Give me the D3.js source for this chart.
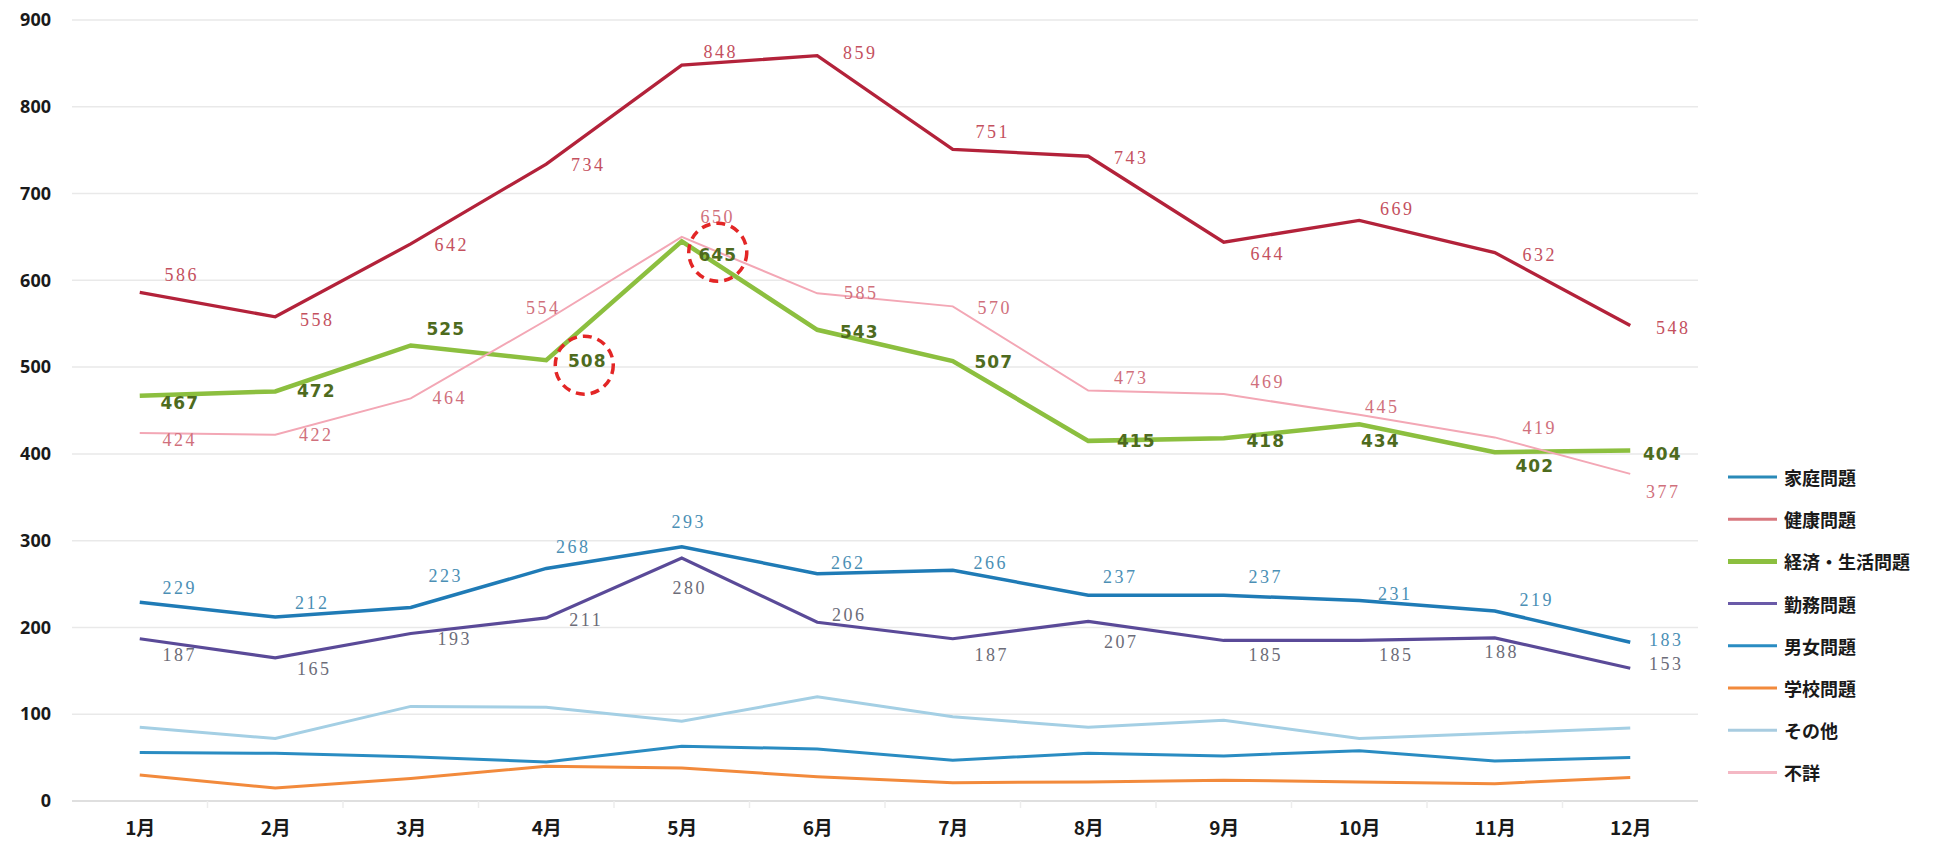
<!DOCTYPE html>
<html><head><meta charset="utf-8">
<script src="https://cdn.jsdelivr.net/npm/d3@7"></script>
<style>html,body{margin:0;padding:0;background:#fff;}svg{display:block;}</style>
</head><body>
<svg id="chart" width="1947" height="846"></svg>
<script>
// ---- data ----
const months = ["1月","2月","3月","4月","5月","6月","7月","8月","9月","10月","11月","12月"];
const yTicks = [0,100,200,300,400,500,600,700,800,900];
const seriesNames = ["家庭問題","健康問題","経済・生活問題","勤務問題","男女問題","学校問題","その他","不詳"];
const katei   = [229,212,223,268,293,262,266,237,237,231,219,183];
const kenko   = [586,558,642,734,848,859,751,743,644,669,632,548];
const keizai  = [467,472,525,508,645,543,507,415,418,434,402,404];
const kinmu   = [187,165,193,211,280,206,187,207,185,185,188,153];
const danjo   = [56,55,51,45,63,60,47,55,52,58,46,50];
const gakko   = [30,15,26,40,38,28,21,22,24,22,20,27];
const sonota  = [85,72,109,108,92,120,97,85,93,72,78,84];
const fusho   = [424,422,464,554,650,585,570,473,469,445,419,377];
const circledPoints = [["経済・生活問題",3],["経済・生活問題",4]];

// ---- styles / layout (kept separate from data) ----
const styles = {
  "家庭問題":      {color:"#1f7bb6", width:3.5, legend:"#2a8ab8", labelColor:"#4b8fb5", labelFont:"serif"},
  "健康問題":      {color:"#b3223a", width:3.3, legend:"#d8787f", labelColor:"#c4505e", labelFont:"serif"},
  "経済・生活問題":{color:"#8cbf3f", width:4.5, legend:"#8cbf3f", labelColor:"#4e6b1e", labelFont:"bold"},
  "勤務問題":      {color:"#5a4a98", width:3.2, legend:"#6a5aa8", labelColor:"#6c6c78", labelFont:"serif"},
  "男女問題":      {color:"#2a8cc2", width:3,   legend:"#2a8cc2"},
  "学校問題":      {color:"#f28a3c", width:3,   legend:"#f28a3c"},
  "その他":        {color:"#a4cfe4", width:3,   legend:"#a8cce0"},
  "不詳":          {color:"#f3a7b5", width:2,   legend:"#f4b8c4", labelColor:"#d0707c", labelFont:"serif"}
};
const labelOffsets = {
  "健康問題":[[42,-17],[42,3],[41,1],[42,1],[39,-13],[43,-3],[40,-17],[43,2],[44,12],[38,-11],[45,2],[43,3]],
  "不詳":[[40,7],[41,0],[39,0],[-3,-12],[36,-20],[44,0],[42,2],[43,-13],[44,-12],[23,-8],[45,-9],[33,18]],
  "経済・生活問題":[[40,7],[41,0],[35,-16],[41,1],[36,14],[42,2],[41,1],[48,0],[42,3],[21,17],[40,14],[32,4]],
  "家庭問題":[[40,-14],[37,-14],[35,-31],[27,-21],[7,-25],[31,-11],[38,-7],[32,-18],[42,-18],[36,-7],[42,-11],[36,-2]],
  "勤務問題":[[40,16],[39,11],[44,5],[40,2],[8,30],[32,-7],[39,16],[33,21],[42,15],[37,15],[7,14],[36,-4]]
};
const circleOffsets = [[38,5],[36,11]];

const seriesValues = {
  "家庭問題":katei,"健康問題":kenko,"経済・生活問題":keizai,"勤務問題":kinmu,
  "男女問題":danjo,"学校問題":gakko,"その他":sonota,"不詳":fusho
};

const svg = d3.select("#chart");
const plot = {left:72, right:1698, top:20, bottom:801};

const x = d3.scalePoint().domain(months).range([plot.left, plot.right]).padding(0.5);
const xBand = d3.scaleBand().domain(months).range([plot.left, plot.right]);
const y = d3.scaleLinear().domain([0,900]).range([plot.bottom, plot.top]);

// gridlines
svg.append("g").selectAll("line").data(yTicks).join("line")
  .attr("x1", plot.left).attr("x2", plot.right)
  .attr("y1", d=>y(d)).attr("y2", d=>y(d))
  .attr("stroke", d=> d===0 ? "#d4d4d4" : "#e9e9e9").attr("stroke-width", 1.5);

// x-axis category boundary ticks (faint)
svg.append("g").selectAll("line").data(months.slice(1)).join("line")
  .attr("x1", d=>xBand(d)).attr("x2", d=>xBand(d))
  .attr("y1", plot.bottom).attr("y2", plot.bottom+7)
  .attr("stroke","#ededed").attr("stroke-width",1.5);

// y-axis labels
const yAxis = d3.axisLeft(y).tickValues(yTicks).tickSize(0).tickPadding(21);
const gy = svg.append("g").attr("transform",`translate(${plot.left},0)`).call(yAxis);
gy.select(".domain").remove();
gy.selectAll("text").attr("font-family","'Noto Sans','DejaVu Sans',sans-serif")
  .attr("font-size",18).attr("font-weight",700).attr("fill","#1a1a1a");

// x-axis labels
const xAxis = d3.axisBottom(x).tickSize(0).tickPadding(21);
const gx = svg.append("g").attr("transform",`translate(0,${plot.bottom})`).call(xAxis);
gx.select(".domain").remove();
gx.selectAll("text").attr("font-family","'Noto Sans CJK JP',sans-serif")
  .attr("font-size",19).attr("font-weight",700).attr("fill","#1a1a1a");

// lines
const line = d3.line().x((d,i)=>x(months[i])).y(d=>y(d));
seriesNames.forEach(name=>{
  const s = styles[name];
  svg.append("path").datum(seriesValues[name])
    .attr("d", line).attr("fill","none")
    .attr("stroke", s.color).attr("stroke-width", s.width)
    .attr("stroke-linejoin","miter").attr("stroke-linecap","butt");
});

// data labels
Object.keys(labelOffsets).forEach(name=>{
  const s = styles[name];
  const vals = seriesValues[name];
  const offs = labelOffsets[name];
  const isBold = s.labelFont === "bold";
  svg.append("g").selectAll("text").data(vals).join("text")
    .attr("x",(d,i)=>x(months[i]) + offs[i][0])
    .attr("y",(d,i)=>y(d) + offs[i][1])
    .attr("text-anchor","middle").attr("dominant-baseline","central")
    .attr("font-family", isBold ? "'DejaVu Sans',sans-serif" : "'Liberation Serif','DejaVu Serif',serif")
    .attr("font-weight", isBold ? 700 : 400)
    .attr("font-size", isBold ? 17 : 18)
    .attr("letter-spacing", isBold ? 1 : 2.5)
    .attr("fill", s.labelColor)
    .text(d=>d);
});

// dashed red circles
circledPoints.forEach((c,k)=>{
  const [name, i] = c;
  const v = seriesValues[name][i];
  svg.append("circle")
    .attr("cx", x(months[i]) + circleOffsets[k][0])
    .attr("cy", y(v) + circleOffsets[k][1])
    .attr("r", 29)
    .attr("fill","none").attr("stroke","#e32626").attr("stroke-width",3.5)
    .attr("stroke-dasharray","9,6");
});

// legend
const legendX = 1728, legendY = 477, legendStep = 42.2;
const lg = svg.append("g");
seriesNames.forEach((name,i)=>{
  const s = styles[name];
  const yy = legendY + i*legendStep;
  lg.append("line").attr("x1",legendX).attr("x2",legendX+49).attr("y1",yy).attr("y2",yy)
    .attr("stroke", s.legend).attr("stroke-width", name==="経済・生活問題" ? 5 : 3);
  lg.append("text").attr("x", legendX+56).attr("y", yy).attr("dominant-baseline","central")
    .attr("font-family","'Noto Sans CJK JP',sans-serif").attr("font-weight",700)
    .attr("font-size",18).attr("fill","#1a1a1a").text(name);
});
</script>
</body></html>
